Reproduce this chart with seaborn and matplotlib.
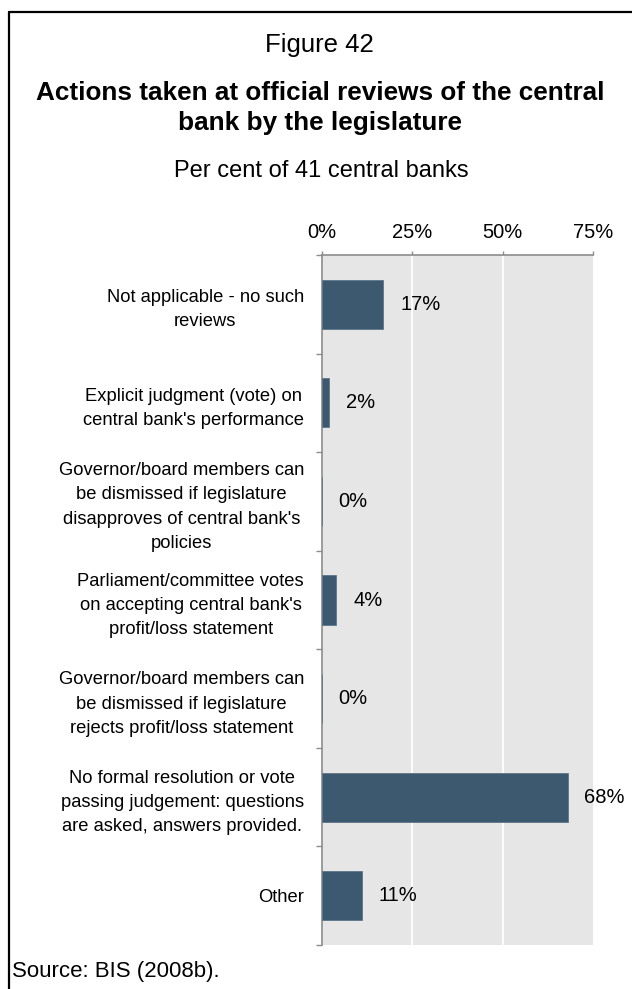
import matplotlib
matplotlib.use("Agg")
import matplotlib.pyplot as plt
from matplotlib.lines import Line2D
import seaborn as sns
import pandas as pd

categories = [
    "Not applicable - no such\nreviews",
    "Explicit judgment (vote) on\ncentral bank's performance",
    "Governor/board members can\nbe dismissed if legislature\ndisapproves of central bank's\npolicies",
    "Parliament/committee votes\non accepting central bank's\nprofit/loss statement",
    "Governor/board members can\nbe dismissed if legislature\nrejects profit/loss statement",
    "No formal resolution or vote\npassing judgement: questions\nare asked, answers provided.",
    "Other",
]
values = [17, 2, 0, 4, 0, 68, 11]
x_ticks = [0, 25, 50, 75]
x_tick_labels = ["0%", "25%", "50%", "75%"]

df = pd.DataFrame({"category": categories, "value": values})

sns.set_theme(style="white")
plt.rcParams["font.family"] = ["Liberation Sans", "DejaVu Sans"]
plt.rcParams["text.color"] = "black"
plt.rcParams["xtick.labelcolor"] = "black"
plt.rcParams["ytick.labelcolor"] = "black"

BAR = "#3D596F"
SPINE = "#8C8C8C"

W, H = 632, 989
fig = plt.figure(figsize=(W / 100, H / 100), dpi=100)
ax = fig.add_axes([322 / W, 1 - 945 / H, (593 - 322) / W, (945 - 255) / H])
ax.set_facecolor("#E6E6E6")

sns.barplot(data=df, x="value", y="category", orient="h", color=BAR,
            width=0.5, edgecolor="#5C7689", linewidth=0.6, saturation=1,
            ax=ax, zorder=3)

ax.set_xlim(0, 75)
ax.set_ylim(len(categories) - 0.5, -0.5)
ax.set_xlabel("")
ax.set_ylabel("")

# vertical white gridlines
for xv in x_ticks[1:-1]:
    ax.axvline(xv, color="white", lw=1.3, zorder=1)

# x axis on top
ax.xaxis.tick_top()
ax.set_xticks(x_ticks)
ax.set_xticklabels(x_tick_labels, fontsize=14.5)
ax.tick_params(axis="x", which="major", direction="out", length=3, width=1,
               color=SPINE, pad=6.5, top=True, bottom=False, labeltop=True,
               labelbottom=False)

# category labels, separators between categories on the left spine
ax.set_yticks(range(len(categories)))
ax.set_yticklabels(categories, fontsize=13.2, multialignment="center",
                   linespacing=1.55)
ax.tick_params(axis="y", which="major", length=0, pad=13)
ax.set_yticks([i - 0.5 for i in range(len(categories) + 1)], minor=True)
ax.tick_params(axis="y", which="minor", direction="out", length=4, width=1,
               color=SPINE, left=True)

for side in ["right", "bottom"]:
    ax.spines[side].set_visible(False)
for side in ["top", "left"]:
    ax.spines[side].set_color(SPINE)
    ax.spines[side].set_linewidth(1.2)

for cont in ax.containers:
    ax.bar_label(cont, labels=[f"{v}%" for v in values], padding=12,
                 fontsize=14.5, color="black")

# titles
fig.text(0.506, 1 - 52 / H, "Figure 42", ha="center", va="baseline",
         fontsize=18.5)
fig.text(0.506, 1 - 100 / H, "Actions taken at official reviews of the central",
         ha="center", va="baseline", fontsize=18.8, fontweight="bold")
fig.text(0.506, 1 - 130 / H, "bank by the legislature",
         ha="center", va="baseline", fontsize=18.8, fontweight="bold")
fig.text(0.509, 1 - 177 / H, "Per cent of 41 central banks", ha="center",
         va="baseline", fontsize=17)
fig.text(12 / W, 1 - 977 / H, "Source: BIS (2008b).", ha="left",
         va="baseline", fontsize=16)

# panel frame
fig.add_artist(Line2D([0.0135, 0.0135], [0.0, 0.9879], transform=fig.transFigure,
                      color="black", lw=1.6))
fig.add_artist(Line2D([0.0135, 1.0], [0.9879, 0.9879], transform=fig.transFigure,
                      color="black", lw=1.6))

fig.savefig("out.png", dpi=100)
